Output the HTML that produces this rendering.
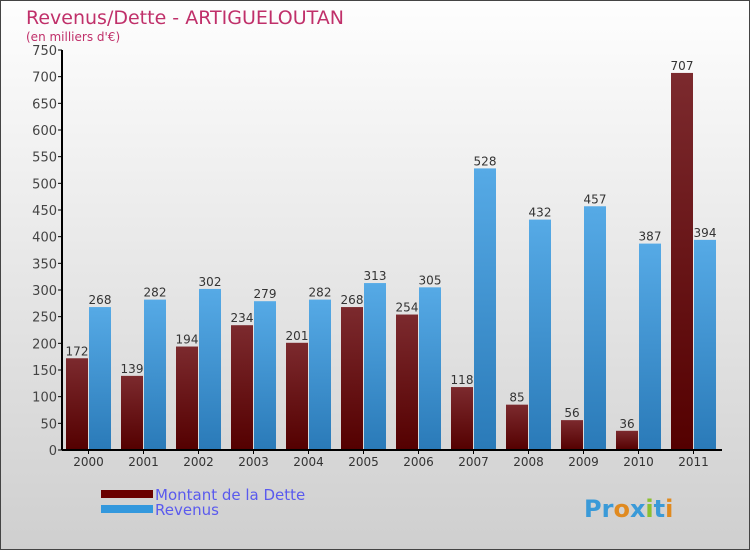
<!DOCTYPE html>
<html><head><meta charset="utf-8"><style>
body{margin:0}
#wrap{position:relative;width:748px;height:548px;border:1px solid #444;background:linear-gradient(#fefefe,#cfcfcf);font-family:"DejaVu Sans","Liberation Sans",sans-serif;overflow:hidden}
</style></head><body>
<div id="wrap">
<svg id="c" width="748" height="548" xmlns="http://www.w3.org/2000/svg">
<defs>
<linearGradient id="gd" x1="0" y1="0" x2="0" y2="1"><stop offset="0" stop-color="#7c2a2e"/><stop offset="1" stop-color="#540000"/></linearGradient>
<linearGradient id="gr" x1="0" y1="0" x2="0" y2="1"><stop offset="0" stop-color="#56aae6"/><stop offset="1" stop-color="#2a7ab8"/></linearGradient>
</defs>
<text x="25" y="23" font-size="19" fill="#c0306a">Revenus/Dette - ARTIGUELOUTAN</text>
<text x="25" y="40" font-size="12" fill="#c0306a">(en milliers d'€)</text>
<g id="plot"></g>
<rect x="100" y="489" width="52" height="8" fill="#6a0000"/>
<text x="154" y="499" font-size="15" fill="#5a5aee">Montant de la Dette</text>
<rect x="100" y="504" width="52" height="8" fill="#3398dd"/>
<text x="154" y="514" font-size="15" fill="#5a5aee">Revenus</text>
<text x="583" y="516" font-size="24" font-weight="bold"><tspan fill="#3a9ad8">Pr</tspan><tspan fill="#e08a20">o</tspan><tspan fill="#3a9ad8">x</tspan><tspan fill="#8cc030">i</tspan><tspan fill="#3a9ad8">t</tspan><tspan fill="#e08a20">i</tspan></text>
</svg>
</div>
<script>
const years=["2000","2001","2002","2003","2004","2005","2006","2007","2008","2009","2010","2011"];
const dette=[172,139,194,234,201,268,254,118,85,56,36,707];
const revenus=[268,282,302,279,282,313,305,528,432,457,387,394];
const yTicks=[0,50,100,150,200,250,300,350,400,450,500,550,600,650,700,750];
const NS="http://www.w3.org/2000/svg";
const g=document.getElementById('plot');
const x0=61,y0=449,yTop=49,yMax=750,grp=55;
const y=v=>y0-(v/yMax)*(y0-yTop);
const xg=i=>x0+i*grp;
function mk(t,a){const e=document.createElementNS(NS,t);for(const k in a)e.setAttribute(k,a[k]);g.appendChild(e);return e;}
yTicks.forEach(v=>{
 const l=mk('line',{x1:x0-4,x2:x0,y1:y(v),y2:y(v),stroke:'#000'});
 
 
 const t=mk('text',{x:x0-5,y:y(v)+5,'text-anchor':'end','font-size':13,fill:'#444'});
 t.textContent=v;
 
 
});
years.forEach((yr,i)=>{
 const gx=xg(i);
 const b1=mk('rect',{x:gx+4,y:y(dette[i]),width:22,height:y0-y(dette[i]),fill:'url(#gd)'});
 
 
 const b2=mk('rect',{x:gx+27,y:y(revenus[i]),width:22,height:y0-y(revenus[i]),fill:'url(#gr)'});
 
 
 const t1=mk('text',{x:gx+15,y:y(dette[i])-3,'text-anchor':'middle','font-size':12,fill:'#333'});
 t1.textContent=dette[i];
 
 
 const t2=mk('text',{x:gx+38,y:y(revenus[i])-3,'text-anchor':'middle','font-size':12,fill:'#333'});
 t2.textContent=revenus[i];
 
 
 const tk=mk('line',{x1:gx+26.5,x2:gx+26.5,y1:y0,y2:y0+4,stroke:'#000'});
 
 
 const xl=mk('text',{x:gx+26.5,y:y0+16,'text-anchor':'middle','font-size':12,fill:'#333'});
 xl.textContent=yr;
 
 
});
const ax=mk('line',{x1:x0,x2:x0,y1:yTop,y2:y0,stroke:'#000','stroke-width':2});


const xa=mk('line',{x1:x0,x2:x0+grp*12,y1:y0,y2:y0,stroke:'#000','stroke-width':2});


</script>
</body></html>
